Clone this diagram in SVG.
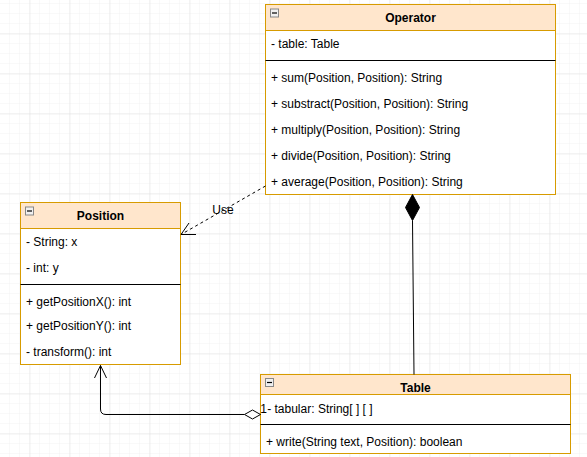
<svg xmlns="http://www.w3.org/2000/svg" width="587" height="457" viewBox="0 0 587 457">
<defs>
<pattern id="minor" width="10" height="10" patternUnits="userSpaceOnUse" x="0" y="4">
<path d="M10 0V10M0 10H10" fill="none" stroke="#f2f2f2" stroke-width="1"/>
</pattern>
<pattern id="major" width="40" height="40" patternUnits="userSpaceOnUse" x="-9.5" y="-5.5">
<path d="M40 0V40M0 40H40" fill="none" stroke="#e0e0e0" stroke-width="1"/>
</pattern>
<g id="collapse">
<rect x="0.5" y="0.5" width="8" height="8" fill="#f0f0f0" stroke="#888"/>
<path d="M2 4.5H7" stroke="#000" stroke-width="1.2"/>
</g>
</defs>
<style>
.hdr{fill:#ffe6cc;stroke:#d79b00;stroke-width:1}
.body{fill:#ffffff;stroke:#d79b00;stroke-width:1}
.sep{stroke:#000;stroke-width:1}
text{font-family:"Liberation Sans",Arial,Helvetica,sans-serif;font-size:12px;fill:#000}
.title{font-weight:bold;text-anchor:middle}
.edge{fill:none;stroke:#000;stroke-width:1}
</style>
<rect width="587" height="457" fill="#ffffff"/>
<rect width="587" height="457" fill="url(#minor)"/>
<rect width="587" height="457" fill="url(#major)"/>

<g id="operator">
<rect class="body" x="265.5" y="4.5" width="290" height="190"/>
<rect class="hdr" x="265.5" y="4.5" width="290" height="26"/>
<use href="#collapse" x="270" y="8.5"/>
<text class="title" x="410.5" y="21.5">Operator</text>
<text x="271" y="48">- table: Table</text>
<line class="sep" x1="265.5" y1="60.5" x2="555.5" y2="60.5"/>
<text x="271" y="81.5">+ sum(Position, Position): String</text>
<text x="271" y="107.5">+ substract(Position, Position): String</text>
<text x="271" y="133.5">+ multiply(Position, Position): String</text>
<text x="271" y="159.5">+ divide(Position, Position): String</text>
<text x="271" y="185.5">+ average(Position, Position): String</text>
</g>

<g id="position">
<rect class="body" x="20.5" y="202.5" width="160" height="162"/>
<rect class="hdr" x="20.5" y="202.5" width="160" height="26"/>
<use href="#collapse" x="25" y="206.5"/>
<text class="title" x="100.5" y="220">Position</text>
<text x="26" y="246">- String: x</text>
<text x="26" y="272">- int: y</text>
<line class="sep" x1="20.5" y1="284.5" x2="180.5" y2="284.5"/>
<text x="26" y="305.5">+ getPositionX(): int</text>
<text x="26" y="329.5">+ getPositionY(): int</text>
<text x="26" y="355.5">- transform(): int</text>
</g>

<g id="table">
<rect class="body" x="260.5" y="374.5" width="310" height="79"/>
<rect class="hdr" x="260.5" y="374.5" width="310" height="20"/>
<use href="#collapse" x="265" y="378"/>
<text class="title" x="415.5" y="391.5">Table</text>
<text x="267.2" y="412.5">- tabular: String[ ] [ ]</text>
<line class="sep" x1="260.5" y1="424.5" x2="570.5" y2="424.5"/>
<text x="266" y="445.5">+ write(String text, Position): boolean</text>
</g>

<g id="connectors">
<path class="edge" d="M265.5 186L181 234.5" stroke-dasharray="3 3"/>
<path class="edge" d="M189 223L181 234.5L196 234.5"/>
<text x="223" y="214" text-anchor="middle">Use</text>
<path class="edge" d="M412.5 220.5L414 374.5"/>
<path d="M412.5 194.5L419.5 207.5L412.5 220.5L405.5 207.5Z" fill="#000" stroke="#000"/>
<path class="edge" d="M244.5 414.5H106Q100.5 414.5 100.5 409V365.5"/>
<path class="edge" d="M94.5 378L100.5 365.5L106.5 378"/>
<path d="M260.5 414.5L252.5 419L244.5 414.5L252.5 410Z" fill="#fff" stroke="#000"/>
<text x="260.3" y="412.5">1</text>
</g>
</svg>
